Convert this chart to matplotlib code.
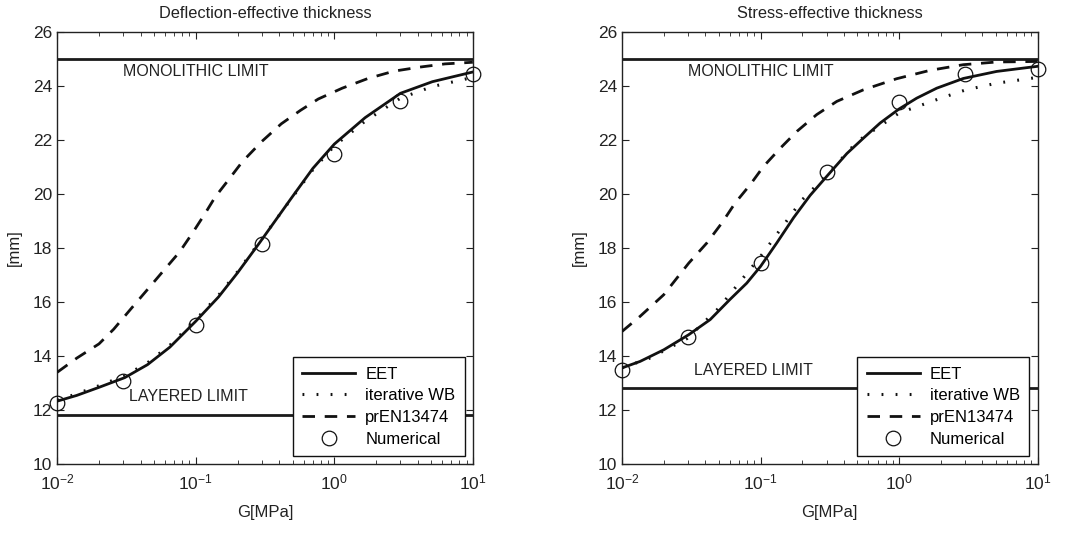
import matplotlib
matplotlib.use("Agg")
import matplotlib.pyplot as plt
from matplotlib.ticker import LogLocator, NullFormatter
import numpy as np

plt.rcParams['font.family'] = ['Liberation Sans', 'DejaVu Sans']

# ---------------- data ----------------
G_num = [0.01, 0.03, 0.1, 0.3, 1.0, 3.0, 10.0]

# Deflection-effective thickness (left)
defl_G_eet = [0.01, 0.0138, 0.02, 0.0307, 0.0448, 0.065, 0.1, 0.146, 0.2, 0.29,
              0.485, 0.7, 1.0, 1.67, 3.0, 5.1, 10.0]
defl_eet = [12.33, 12.54, 12.84, 13.2, 13.68, 14.33, 15.29, 16.19, 17.08, 18.21,
            19.82, 20.95, 21.85, 22.83, 23.73, 24.16, 24.52]
defl_G_wb = [0.01, 0.0138, 0.02, 0.0307, 0.0448, 0.065, 0.1, 0.146, 0.2, 0.29,
             0.485, 0.7, 1.0, 1.67, 3.0, 5.1, 10.0]
defl_wb = [12.36, 12.6, 12.9, 13.27, 13.75, 14.4, 15.35, 16.25, 17.12, 18.24,
           19.8, 20.9, 21.78, 22.7, 23.55, 23.98, 24.32]
defl_G_en = [0.01, 0.0138, 0.02, 0.0255, 0.0343, 0.0472, 0.058, 0.0765, 0.095,
             0.117, 0.138, 0.166, 0.217, 0.3, 0.414, 0.57, 0.766, 1.14, 1.75,
             2.69, 4.13, 6.3, 10.0]
defl_en = [13.4, 13.92, 14.45, 14.99, 15.77, 16.6, 17.14, 17.86, 18.57,
           19.29, 19.89, 20.42, 21.2, 21.95, 22.6, 23.1, 23.52, 23.92, 24.28,
           24.55, 24.7, 24.82, 24.88]
defl_num = [12.25, 13.08, 15.15, 18.15, 21.5, 23.45, 24.45]
defl_mono = 25.0
defl_layer = 11.8

# Stress-effective thickness (right)
str_G_eet = [0.01, 0.0135, 0.02, 0.0303, 0.0433, 0.06, 0.0795, 0.1, 0.131,
             0.173, 0.228, 0.3, 0.42, 0.553, 0.73, 1.0, 1.34, 1.87, 2.91,
             5.06, 10.0]
str_eet = [13.56, 13.8, 14.23, 14.79, 15.35, 16.09, 16.7, 17.32, 18.19,
           19.12, 19.95, 20.65, 21.5, 22.07, 22.63, 23.15, 23.55, 23.92,
           24.28, 24.54, 24.73]
str_G_wb = [0.01, 0.016, 0.0295, 0.05, 0.1, 0.2, 0.3, 0.5, 1.0, 2.0, 3.0,
            5.0, 10.0]
str_wb = [13.56, 13.93, 14.65, 15.78, 17.69, 19.79, 20.7, 21.95, 23.0,
          23.55, 23.85, 24.1, 24.32]
str_G_en = [0.01, 0.0135, 0.02, 0.0303, 0.041, 0.0526, 0.0656, 0.0843, 0.105,
            0.139, 0.183, 0.254, 0.355, 0.553, 0.96, 1.67, 2.91, 5.06, 10.0]
str_en = [14.91, 15.47, 16.27, 17.44, 18.19, 18.93, 19.67, 20.35, 21.02,
          21.7, 22.32, 22.94, 23.43, 23.86, 24.27, 24.58, 24.79, 24.89, 24.91]
str_num = [13.5, 14.72, 17.45, 20.8, 23.4, 24.45, 24.62]
str_mono = 25.0
str_layer = 12.8

titles = ["Deflection-effective thickness", "Stress-effective thickness"]
layer_text_y = [12.5, 13.47]

panels = [
    (defl_G_eet, defl_eet, defl_G_wb, defl_wb, defl_G_en, defl_en, defl_num,
     defl_mono, defl_layer),
    (str_G_eet, str_eet, str_G_wb, str_wb, str_G_en, str_en, str_num,
     str_mono, str_layer),
]

# ---------------- figure ----------------
fig = plt.figure(figsize=(10.71, 5.40), dpi=100)
axes_pos = [[0.0535, 0.1407, 0.3880, 0.8], [0.5808, 0.1407, 0.3880, 0.8]]

for i, (pos, p) in enumerate(zip(axes_pos, panels)):
    ge, ye, gw, yw, gn, yn, ynum, mono, layer = p
    ax = fig.add_axes(pos)
    ax.set_xscale('log')
    ax.axhline(mono, color='#1a1a1a', lw=2.0, zorder=2)
    ax.axhline(layer, color='#1a1a1a', lw=2.0, zorder=2)
    l1, = ax.plot(ge, ye, '-', color='#111111', lw=2.0, label='EET', zorder=3)
    l2, = ax.plot(gw, yw, linestyle=(0, (0.6, 4.0)), color='#111111', lw=2.2,
                  dash_capstyle='butt', label='iterative WB', zorder=3)
    l3, = ax.plot(gn, yn, linestyle=(0, (4.5, 3.5)), color='#111111', lw=2.0,
                  label='prEN13474', zorder=3)
    l4, = ax.plot(G_num, ynum, 'o', mfc='none', mec='#111111', ms=10.5,
                  mew=0.9, label='Numerical', zorder=4, clip_on=False)
    ax.set_xlim(0.01, 10)
    ax.set_ylim(10, 26)
    ax.set_yticks(range(10, 27, 2))
    ax.xaxis.set_minor_locator(LogLocator(base=10, subs=range(2, 10),
                                          numticks=20))
    ax.xaxis.set_minor_formatter(NullFormatter())
    ax.tick_params(which='both', direction='in', top=True, right=True,
                   labelsize=12.5, colors='#222222')
    ax.tick_params(which='major', length=5, width=0.8)
    ax.tick_params(which='minor', length=3, width=0.6)
    ax.tick_params(axis='x', pad=6)
    for s in ax.spines.values():
        s.set_linewidth(1.0)
        s.set_color('#222222')
    ax.set_title(titles[i], fontsize=11.8, color='#222222', pad=10)
    ax.set_xlabel('G[MPa]', fontsize=12, color='#222222', labelpad=9)
    ax.set_ylabel('[mm]', fontsize=12, color='#222222', labelpad=8)
    ax.text(0.0298, 24.52, 'MONOLITHIC LIMIT', fontsize=11.5, color='#222222',
            ha='left', va='center')
    ax.text(0.033, layer_text_y[i], 'LAYERED LIMIT', fontsize=11.5,
            color='#222222', ha='left', va='center')
    leg = ax.legend(handles=[l1, l2, l3, l4], loc='lower right',
                    fontsize=12, frameon=True, fancybox=False,
                    edgecolor='#111111', framealpha=1, handlelength=3.2,
                    borderaxespad=0.5, labelspacing=0.4, handletextpad=0.6,
                    borderpad=0.55)
    leg.get_frame().set_linewidth(1.0)
    leg.set_zorder(5)

fig.savefig('out.png', dpi=100)
